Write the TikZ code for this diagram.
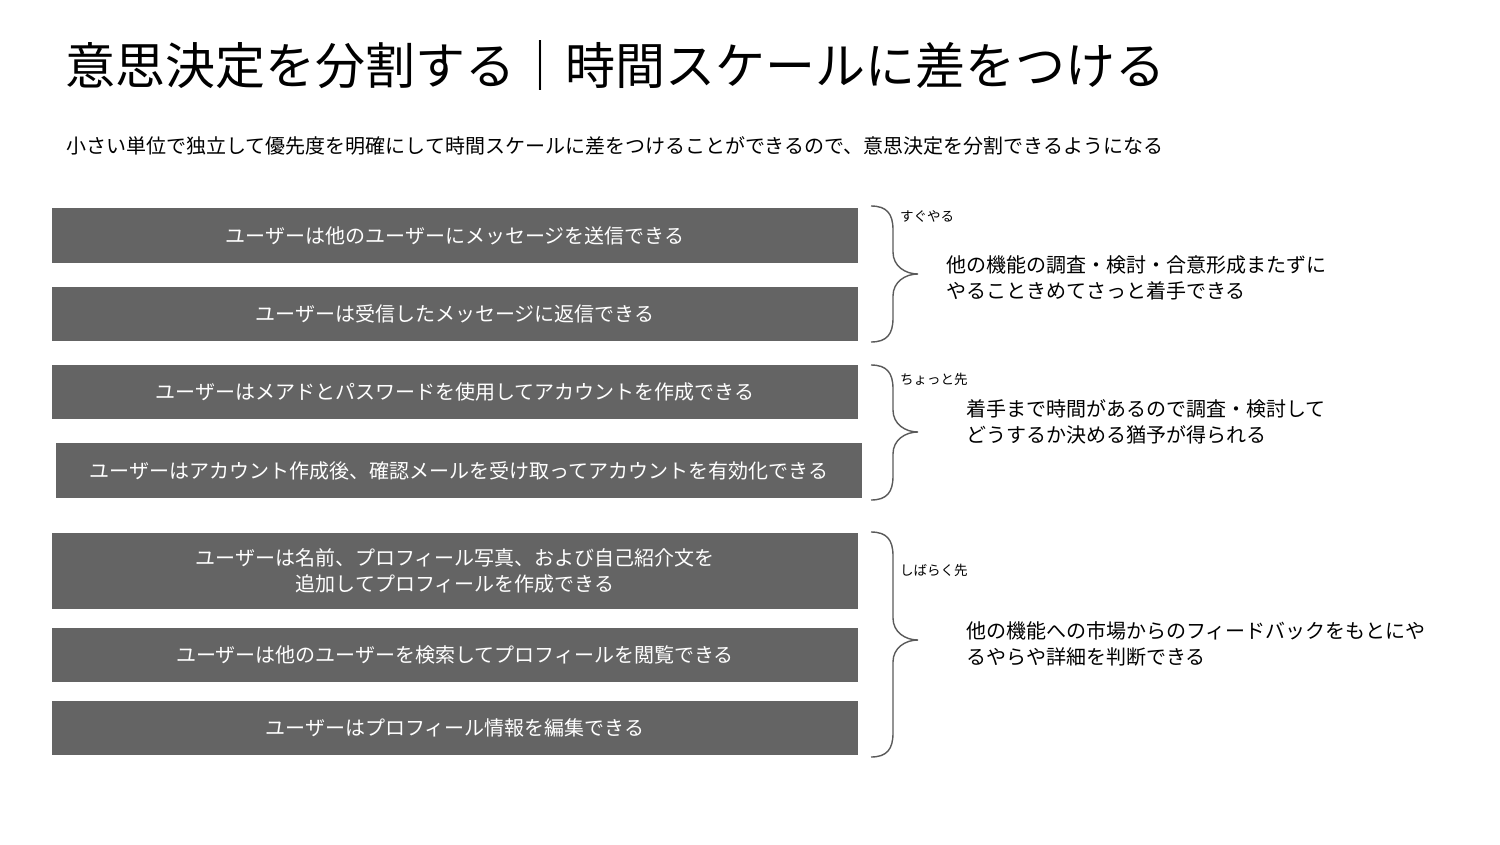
\documentclass[tikz,border=0pt]{standalone}
\usepackage{fontspec}
\setmainfont{Noto Sans CJK JP}
\definecolor{boxgray}{HTML}{646464}
\definecolor{bracegray}{HTML}{5A5A5A}
\newcommand{\mybrc}[4]{% x, ytop, ymid, ybot
  \draw[bracegray, line width=1.4pt]
    (#1,#2) .. controls (#1+16,#2) and (#1+22,#2+8) .. (#1+22,#2+24)
    -- (#1+22,#3-22) .. controls (#1+22,#3-8) and (#1+34,#3) .. (#1+47,#3)
    .. controls (#1+34,#3) and (#1+22,#3+8) .. (#1+22,#3+22)
    -- (#1+22,#4-24) .. controls (#1+22,#4-8) and (#1+16,#4) .. (#1,#4);}
\tikzset{
  story/.style={fill=boxgray, text=white, inner sep=0pt, minimum width=806pt,
    font=\fontsize{20}{26}\selectfont, align=center},
  note/.style={anchor=west, inner sep=0pt, align=left, font=\fontsize{20}{26}\selectfont},
  tag/.style={anchor=west, inner sep=0pt, font=\fontsize{13.5}{16}\selectfont},
}
\begin{document}
\begin{tikzpicture}[x=1pt,y=-1pt]
\useasboundingbox (0,0) rectangle (1500,844);
\node[anchor=west, inner sep=0pt, font=\fontsize{50}{56}\selectfont] (title) at (65,65) {意思決定を分割する｜時間スケールに差をつける};
\node[anchor=west, inner sep=0pt, font=\fontsize{20}{24}\selectfont] (sub) at (66,146) {小さい単位で独立して優先度を明確にして時間スケールに差をつけることができるので、意思決定を分割できるようになる};

\node[story, minimum height=55pt] (s1) at (455,235.5) {ユーザーは他のユーザーにメッセージを送信できる};
\node[story, minimum height=54pt] (s2) at (455,314) {ユーザーは受信したメッセージに返信できる};
\node[story, minimum height=54pt] (s3) at (455,392) {ユーザーはメアドとパスワードを使用してアカウントを作成できる};
\node[story, minimum height=55pt] (s4) at (459,470.5) {ユーザーはアカウント作成後、確認メールを受け取ってアカウントを有効化できる};
\node[story, minimum height=76pt] (s5) at (455,571) {ユーザーは名前、プロフィール写真、および自己紹介文を\\追加してプロフィールを作成できる};
\node[story, minimum height=54pt] (s6) at (455,655) {ユーザーは他のユーザーを検索してプロフィールを閲覧できる};
\node[story, minimum height=54pt] (s7) at (455,728) {ユーザーはプロフィール情報を編集できる};

\mybrc{871}{206}{274}{342}
\mybrc{871}{365}{432}{500}
\mybrc{871}{532}{640}{757}

\node[tag] (t1) at (900,216) {すぐやる};
\node[tag] (t2) at (900,379) {ちょっと先};
\node[tag] (t3) at (900,570) {しばらく先};

\node[note] (n1) at (946,278) {他の機能の調査・検討・合意形成またずに\\やることきめてさっと着手できる};
\node[note] (n2) at (966,422) {着手まで時間があるので調査・検討して\\どうするか決める猶予が得られる};
\node[note] (n3) at (966,644) {他の機能への市場からのフィードバックをもとにや\\るやらや詳細を判断できる};
\end{tikzpicture}
\end{document}
